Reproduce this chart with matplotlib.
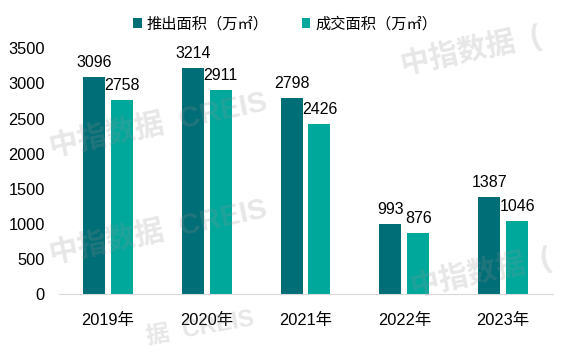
import matplotlib.pyplot as plt
import numpy as np

plt.rcParams['font.family'] = ['Liberation Sans', 'Noto Sans CJK SC', 'DejaVu Sans']

years = ['2019年', '2020年', '2021年', '2022年', '2023年']
launched = [3096, 3214, 2798, 993, 1387]
sold = [2758, 2911, 2426, 876, 1046]
series_names = ['推出面积（万㎡）', '成交面积（万㎡）']
dark = '#006E76'
light = '#00A89C'

fig = plt.figure(figsize=(5.67, 3.54), dpi=100)
ax = fig.add_axes([0.1032, 0.1695, 0.8713, 0.694])

x = np.arange(len(years))
w = 0.222
off = 0.141
b1 = ax.bar(x - off, launched, w, color=dark, label=series_names[0])
b2 = ax.bar(x + off, sold, w, color=light, label=series_names[1])
ax.bar_label(b1, padding=5, fontsize=11.5)
ax.bar_label(b2, padding=5, fontsize=11.5)

ax.set_xlim(-0.5, len(years) - 0.5)
ax.set_ylim(0, 3500)
ax.set_yticks(np.arange(0, 3501, 500))
ax.set_xticks(x)
ax.set_xticklabels(years)
ax.tick_params(axis='both', length=0, labelsize=11.8)
ax.tick_params(axis='x', pad=14)
ax.tick_params(axis='y', pad=10)
for s in ['top', 'right', 'left']:
    ax.spines[s].set_visible(False)
ax.spines['bottom'].set_color('#D9D9D9')

fig.legend(handles=[b1, b2], loc='center', bbox_to_anchor=(0.503, 0.932),
           ncol=2, frameon=False, fontsize=11, handlelength=0.55,
           handleheight=0.55, handletextpad=0.3, columnspacing=2.2)

# watermark
wm = dict(color='#909090', alpha=0.22, fontsize=21, fontweight='bold',
          rotation=12, ha='center', va='center', zorder=5)
fig.text(158 / 567, 1 - 125 / 354, '中指数据  CREIS', **wm)
fig.text(158 / 567, 1 - 232 / 354, '中指数据  CREIS', **wm)
fig.text(470 / 567, 1 - 50 / 354, '中指数据  (', **wm)
fig.text(480 / 567, 1 - 272 / 354, '中指数据  (', **wm)
fig.text(200 / 567, 1 - 328 / 354, '据  CREIS',
         **{**wm, 'fontsize': 17, 'rotation': 10})

fig.savefig('out.png', dpi=100)
